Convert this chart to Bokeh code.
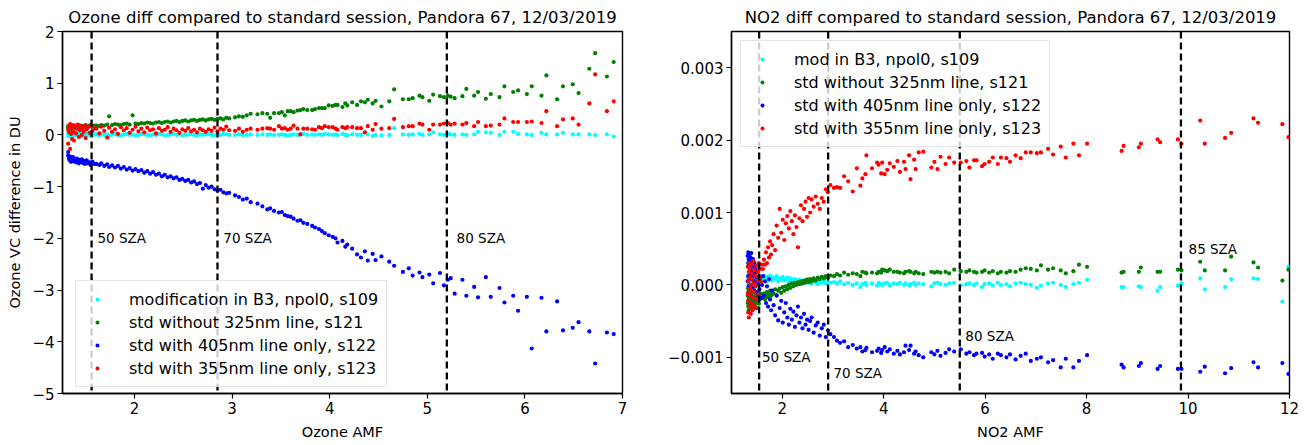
import numpy as np
from bokeh.plotting import figure
from bokeh.models import Span, FixedTicker, CustomJSTickFormatter, ColumnDataSource, Range1d
from bokeh.layouts import row
from bokeh.embed import file_html
from bokeh.resources import INLINE
from bokeh.core.properties import value

FONT = "DejaVu Sans"

# ---------------- Ozone panel data ----------------
ozone_amf_a = [1.32,1.32,1.33,1.33,1.34,1.34,1.35,1.35,1.36,1.37, 1.37,1.38,1.39,1.40,1.41,1.42,1.43,1.44,1.45,1.46,
               1.47,1.48,1.49,1.50,1.51,1.52,1.54,1.55,1.57,1.59]
ozone_s109_a = [0.03,-0.02,0.04,0.01,-0.03,0.02,0.00,0.04,-0.01,0.03, 0.01,-0.02,0.02,0.04,0.00,-0.01,0.03,0.02,-0.03,0.01,
                0.04,0.00,0.02,-0.02,0.03,0.01,0.00,0.02,-0.01,0.01]
ozone_s121_a = [0.14,0.17,0.12,0.16,0.13,0.18,0.15,0.12,0.17,0.14, 0.16,0.13,0.18,0.15,0.14,0.17,0.15,0.13,0.18,0.16,
                0.14,0.17,0.15,0.19,0.16,0.14,0.18,0.17,0.15,0.18]
ozone_s122_a = [-0.40,-0.33,-0.47,-0.44,-0.50,-0.42,-0.46,-0.52,-0.45,-0.49, -0.43,-0.51,-0.47,-0.53,-0.46,-0.50,-0.55,-0.48,-0.52,-0.47,
                -0.54,-0.50,-0.56,-0.51,-0.49,-0.55,-0.53,-0.58,-0.52,-0.56]
ozone_s123_a = [0.10,-0.17,0.18,0.05,-0.27,0.21,0.02,0.14,-0.08,0.19, 0.07,-0.11,0.16,0.03,0.12,0.20,-0.04,0.09,0.17,0.00,
                0.13,0.06,0.18,-0.06,0.11,0.15,0.04,0.19,0.08,0.13]

ozone_amf_b = [1.61,1.64,1.66,1.69,1.72,1.74,1.77,1.80,1.83,1.86, 1.89,1.92,1.95,1.98,2.01,2.04,2.07,2.10,2.13,2.16,
               2.19,2.22,2.25,2.28,2.31,2.34,2.37,2.40,2.43,2.46, 2.49,2.52,2.55,2.58,2.61,2.64,2.67,2.70,2.73,2.76,
               2.79,2.82,2.85,2.88,2.91,2.94,2.97]
ozone_s109_b = [0.01,-0.01,0.02,0.00,0.01,-0.02,0.01,0.02,0.00,-0.01, 0.01,0.02,0.00,0.01,-0.01,0.00,0.02,0.01,0.00,-0.01,
                0.01,0.00,0.02,0.01,-0.01,0.00,0.01,0.02,0.00,0.01, -0.01,0.00,0.01,0.02,0.00,-0.01,0.01,0.00,0.01,0.02,
                0.00,-0.01,0.01,0.00,0.02,0.01,0.00]
ozone_s121_b = [0.18,0.17,0.19,0.18,0.20,0.36,0.19,0.21,0.20,0.19, 0.21,0.22,0.20,0.38,0.22,0.21,0.23,0.22,0.24,0.23,
                0.22,0.24,0.25,0.23,0.25,0.26,0.24,0.26,0.27,0.25, 0.27,0.28,0.26,0.28,0.29,0.27,0.29,0.30,0.28,0.30,
                0.31,0.29,0.31,0.32,0.30,0.33,0.32]
ozone_s122_b = [-0.56,-0.58,-0.55,-0.60,-0.57,-0.62,-0.59,-0.63,-0.60,-0.65, -0.62,-0.67,-0.64,-0.69,-0.66,-0.70,-0.68,-0.73,-0.70,-0.75,
                -0.72,-0.77,-0.75,-0.80,-0.77,-0.82,-0.80,-0.84,-0.82,-0.87, -0.85,-0.89,-0.87,-0.92,-0.90,-0.95,-0.93,-1.04,-0.97,-1.02,
                -1.00,-1.05,-1.08,-1.06,-1.11,-1.13,-1.12]
ozone_s123_b = [0.12,0.03,0.16,0.08,-0.05,0.14,0.06,0.11,0.02,0.15, 0.09,0.13,0.04,0.10,0.16,0.07,0.12,0.05,0.14,0.09,
                0.11,0.03,0.13,0.08,0.10,0.15,0.06,0.12,0.09,0.04, 0.11,0.08,0.13,0.07,0.10,0.05,0.12,0.09,0.06,0.11,
                0.08,0.14,0.07,0.12,0.10,0.16,0.09]

ozone_amf_c = [3.03,3.07,3.11,3.15,3.19,3.26,3.31,3.36,3.39,3.43, 3.48,3.51,3.54,3.57,3.60,3.63,3.67,3.70,3.73,3.77,
               3.82,3.85,3.89,3.92,3.95,3.99,4.03,4.06,4.08,4.13, 4.16,4.18,4.23,4.28]
ozone_s109_c = [0.00,0.01,-0.01,0.00,0.01,0.00,0.01,0.00,0.01,0.00, 0.00,0.01,0.00,-0.01,0.00,0.01,0.00,0.01,0.02,0.00,
                0.01,0.00,0.01,0.00,0.02,0.01,0.00,0.01,0.00,0.02, 0.00,-0.01,0.01,0.00]
ozone_s121_c = [0.34,0.36,0.35,0.38,0.41,0.40,0.42,0.41,0.33,0.42, 0.42,0.44,0.38,0.46,0.46,0.44,0.47,0.48,0.50,0.48,
                0.48,0.50,0.52,0.52,0.52,0.57,0.56,0.58,0.58,0.54, 0.61,0.57,0.63,0.58]
ozone_s122_c = [-1.17,-1.20,-1.25,-1.23,-1.30,-1.33,-1.38,-1.44,-1.42,-1.47, -1.50,-1.49,-1.55,-1.57,-1.58,-1.62,-1.66,-1.65,-1.70,-1.72,
                -1.76,-1.79,-1.82,-1.86,-1.90,-1.94,-1.97,-2.00,-2.08,-2.05, -2.16,-2.12,-2.20,-2.31]
ozone_s123_c = [0.08,0.12,0.06,0.10,0.12,0.10,0.12,0.13,0.12,0.10, 0.17,0.12,0.13,0.10,0.12,0.18,0.12,0.01,0.12,0.12,
                0.11,0.10,0.15,0.13,0.17,0.15,0.15,0.12,0.10,0.15, 0.13,0.15,0.15,0.13]

ozone_amf_d = [4.32,4.36,4.39,4.44,4.47,4.53,4.61,4.66,4.75,4.81, 4.85,4.92,4.95,5.02,5.06,5.13,5.17,5.21,5.24,5.28,
               5.36,5.40,5.48,5.52,5.60,5.65,5.74,5.79,5.88,5.93, 6.02,6.07,6.17,6.22,6.33,6.39,6.49,6.55,6.66,6.72,
               6.84,6.91]
ozone_s109_d = [0.00,0.05,0.01,-0.02,0.00,-0.01,0.00,0.13,0.01,0.00, 0.01,0.02,0.00,0.01,0.05,0.01,0.00,0.02,0.01,0.00,
                0.01,0.00,0.01,0.06,0.05,0.04,0.00,0.06,0.06,0.02, 0.01,0.00,0.04,0.01,0.01,0.04,0.01,0.01,0.01,0.00,
                0.01,-0.03]
ozone_s121_d = [0.65,0.63,0.68,0.61,0.66,0.55,0.65,0.88,0.69,0.69, 0.71,0.76,0.73,0.66,0.78,0.75,0.73,0.76,0.74,0.71,
                0.75,0.89,0.76,0.83,0.70,0.79,0.73,0.94,0.83,0.86, 0.79,0.94,0.76,1.15,0.69,0.94,0.98,0.81,1.28,1.58,
                1.13,1.41]
ozone_s122_d = [-2.37,-2.25,-2.43,-2.30,-2.42,-2.35,-2.45,-2.53,-2.65,-2.58, -2.72,-2.66,-2.75,-2.70,-2.87,-2.67,-2.91,-2.80,-2.77,-3.07,
                -2.80,-3.11,-2.94,-3.14,-2.75,-3.13,-2.96,-3.24,-3.11,-3.40, -3.13,-4.13,-3.15,-3.80,-3.22,-3.78,-3.73,-3.62,-3.80,-4.42,
                -3.82,-3.85]
ozone_s123_d = [0.13,0.05,0.17,0.10,0.21,0.12,0.13,0.31,0.15,0.17, 0.17,0.22,0.20,0.10,0.20,0.20,0.22,0.23,0.20,0.22,
                0.20,0.23,0.17,0.25,0.17,0.18,0.20,0.32,0.25,0.25, 0.25,0.26,0.23,0.46,0.17,0.30,0.32,0.20,0.61,1.17,
                0.46,0.65]

# ---------------- NO2 panel data (values in units of 1e-3) ----------------
no2_amf_a = [1.32,1.32,1.33,1.33,1.33,1.34,1.34,1.35,1.35,1.36, 1.36,1.37,1.37,1.38,1.38,1.39,1.39,1.40,1.40,1.41,
             1.41,1.42,1.43,1.43,1.44,1.45,1.45,1.46,1.47,1.48, 1.49,1.50,1.51,1.52,1.53,1.54,1.55,1.56,1.58,1.60]
no2_s109_a = [0.05,-0.05,0.10,0.00,0.12,-0.08,0.06,0.14,-0.02,0.08, 0.03,0.11,-0.06,0.07,0.01,0.13,-0.04,0.09,0.04,0.15,
              -0.01,0.06,0.10,0.02,0.12,-0.03,0.08,0.05,0.11,0.00, 0.07,0.09,0.03,0.10,0.06,0.08,0.04,0.09,0.07,0.08]
no2_s121_a = [-0.15,-0.25,-0.05,-0.30,-0.10,-0.20,-0.35,-0.02,-0.18,-0.28, -0.08,-0.22,-0.12,-0.32,-0.04,-0.26,-0.14,-0.30,-0.06,-0.20,
              -0.34,-0.10,-0.24,-0.16,-0.28,-0.08,-0.22,-0.30,-0.12,-0.26, -0.18,-0.32,-0.14,-0.22,-0.10,-0.26,-0.16,-0.20,-0.12,-0.18]
no2_s122_a = [0.40,0.05,0.30,0.45,0.12,0.35,-0.02,0.25,0.42,0.18, 0.08,0.38,0.22,0.00,0.32,0.15,0.44,0.10,0.28,-0.04,
              0.20,0.36,0.06,0.26,0.12,0.30,-0.08,0.16,0.04,0.22, -0.10,0.10,0.18,-0.15,0.02,0.12,-0.06,0.08,-0.18,0.00]
no2_s123_a = [-0.12,0.25,-0.38,0.05,-0.22,0.18,-0.45,-0.05,0.30,-0.30, 0.10,-0.15,0.22,-0.40,0.00,-0.25,0.15,-0.08,0.28,-0.35,
              0.08,-0.18,0.33,-0.28,0.02,-0.10,0.20,-0.32,0.12,-0.02, 0.26,-0.20,0.06,0.18,-0.14,0.30,0.10,0.22,0.04,0.28]

no2_amf_b = [1.62,1.64,1.66,1.68,1.70,1.72,1.74,1.76,1.78,1.80, 1.83,1.86,1.89,1.92,1.95,1.98,2.01,2.04,2.07,2.10,
             2.13,2.16,2.19,2.22,2.25,2.28,2.31,2.34,2.37,2.40, 2.43,2.46,2.49,2.52,2.55,2.58,2.62,2.66,2.70,2.74,
             2.78,2.82,2.86,2.90,2.95]
no2_s109_b = [0.10,0.06,0.12,0.08,0.05,0.11,0.07,0.13,0.09,0.06, 0.10,0.08,0.12,0.05,0.09,0.07,0.11,0.06,0.08,0.10,
              0.05,0.09,0.07,0.04,0.08,0.06,0.03,0.07,0.05,0.02, 0.06,0.04,0.08,0.03,0.05,0.02,0.06,0.04,0.01,0.05,
              0.03,0.06,0.02,0.04,0.03]
no2_s121_b = [-0.18,-0.12,-0.20,-0.15,-0.10,-0.17,-0.13,-0.08,-0.15,-0.10, -0.12,-0.06,-0.14,-0.08,-0.05,-0.11,-0.03,-0.08,-0.02,-0.06,
              0.00,-0.04,0.02,-0.02,0.03,0.00,0.04,0.01,0.05,0.02, 0.06,0.03,0.07,0.04,0.08,0.05,0.09,0.06,0.10,0.08,
              0.11,0.09,0.12,0.10,0.13]
no2_s122_b = [0.12,-0.15,0.05,-0.25,-0.02,-0.30,0.08,-0.20,-0.35,-0.08, -0.28,-0.42,-0.15,-0.49,-0.32,-0.22,-0.52,-0.38,-0.25,-0.45,
              -0.55,-0.33,-0.48,-0.37,-0.58,-0.42,-0.30,-0.52,-0.45,-0.60, -0.40,-0.55,-0.48,-0.62,-0.50,-0.45,-0.66,-0.56,-0.52,-0.70,
              -0.60,-0.55,-0.72,-0.63,-0.68]
no2_s123_b = [0.22,0.35,0.28,0.45,0.30,0.52,0.38,0.60,0.42,0.55, 0.70,0.48,0.82,0.65,1.05,0.72,0.90,0.62,0.85,0.95,
              0.78,1.02,0.88,0.70,0.96,0.80,0.52,0.92,1.10,0.88, 1.05,1.15,0.94,1.20,1.00,1.18,1.08,1.22,1.12,1.05,
              1.20,1.15,1.32,1.28,1.38]

no2_amf_c = [3.02,3.08,3.14,3.22,3.30,3.39,3.47,3.54,3.58,3.64, 3.66,3.77,3.87,3.90,3.95,3.97,4.02,4.07,4.12,4.20,
             4.27,4.32,4.40,4.43,4.50,4.53,4.60,4.63,4.69,4.78, 4.94,5.00,5.06,5.12,5.22,5.29,5.39,5.52,5.63,5.69,
             5.78,5.83,5.94,5.99,6.08,6.15,6.25,6.31,6.42,6.49, 6.60,6.70,6.80,6.90,7.02,7.10,7.24,7.34,7.49,7.59,
             7.74,7.85,8.01]
no2_s109_c = [0.04,0.02,0.05,0.01,0.03,0.00,0.02,-0.03,0.01,0.03, 0.00,0.02,-0.01,0.03,0.01,0.00,0.02,0.03,-0.01,0.02,
              0.01,0.03,0.00,0.02,-0.01,0.01,0.03,0.00,0.02,0.01, -0.02,0.02,0.03,0.01,0.00,0.02,0.03,-0.01,0.01,0.02,
              0.00,0.02,-0.03,0.01,0.02,-0.01,0.03,0.00,0.01,-0.02, 0.02,0.03,0.01,0.00,-0.04,-0.01,0.02,0.03,0.00,-0.03,
              0.01,0.03,0.07]
no2_s121_c = [0.12,0.15,0.13,0.17,0.14,0.16,0.15,0.12,0.18,0.17, 0.16,0.17,0.16,0.18,0.17,0.21,0.20,0.19,0.21,0.18,
              0.18,0.17,0.16,0.18,0.19,0.18,0.16,0.18,0.16,0.15, 0.18,0.17,0.18,0.17,0.18,0.16,0.21,0.19,0.18,0.20,
              0.18,0.17,0.18,0.20,0.17,0.19,0.16,0.18,0.17,0.19, 0.18,0.21,0.23,0.22,0.20,0.27,0.21,0.23,0.20,0.16,
              0.19,0.28,0.25]
no2_s122_c = [-0.72,-0.77,-0.80,-0.78,-0.86,-0.83,-0.88,-0.86,-0.92,-0.90, -0.87,-0.93,-0.91,-0.88,-0.94,-0.90,-0.86,-0.92,-0.89,-0.95,
              -0.91,-0.96,-0.93,-0.84,-0.90,-0.84,-0.95,-0.92,-0.97,-1.00, -0.93,-0.96,-0.91,-0.98,-0.94,-0.89,-0.92,-0.89,-0.95,-0.93,
              -0.97,-0.95,-0.94,-0.99,-0.96,-1.02,-0.95,-0.97,-1.00,-0.96, -1.03,-0.98,-0.95,-1.05,-1.02,-1.00,-1.07,-1.04,-1.14,-1.02,
              -1.14,-1.05,-0.97]
no2_s123_c = [1.34,1.35,1.34,1.50,1.43,1.29,1.61,1.37,1.47,1.53, 1.79,1.61,1.69,1.66,1.54,1.69,1.53,1.59,1.68,1.63,
              1.71,1.56,1.70,1.60,1.79,1.46,1.73,1.60,1.83,1.84, 1.62,1.70,1.60,1.77,1.67,1.76,1.69,1.69,1.71,1.62,
              1.72,1.72,1.64,1.67,1.70,1.76,1.67,1.76,1.75,1.70, 1.79,1.75,1.83,1.83,1.82,1.83,1.88,1.80,1.91,1.76,
              1.95,1.79,1.95]

no2_amf_d = [8.69,8.73,9.03,9.07,9.40,9.45,9.80,9.87,10.24,10.33, 10.73,10.85,11.29,11.38,11.86,11.98]
no2_s109_d = [-0.03,-0.03,-0.02,-0.03,-0.08,-0.03,-0.01,0.02,0.09,-0.06, -0.03,0.08,0.09,0.08,-0.23,0.25]
no2_s121_d = [0.17,0.18,0.18,0.24,0.18,0.18,0.21,0.20,0.32,0.20, 0.20,0.39,0.31,0.24,0.06,0.21]
no2_s122_d = [-1.10,-1.14,-1.12,-1.08,-1.16,-1.12,-1.16,-1.16,-1.20,-1.13, -1.22,-1.15,-1.07,-1.14,-1.08,-1.23]
no2_s123_d = [1.85,1.92,1.90,1.95,2.01,1.97,2.01,1.95,2.27,1.95, 2.03,2.10,2.30,2.24,2.22,2.04]

# ---------------- labels / ticks / reference lines ----------------
ozone_labels = ["modification in B3, npol0, s109", "std without 325nm line, s121",
                "std with 405nm line only, s122", "std with 355nm line only, s123"]
no2_labels = ["mod in B3, npol0, s109", "std without 325nm line, s121",
              "std with 405nm line only, s122", "std with 355nm line only, s123"]
series_colors = ["#00ffff", "#008000", "#0000ff", "#ff0000"]

ozone_xticks = [2, 3, 4, 5, 6, 7]
ozone_yticks = [-5, -4, -3, -2, -1, 0, 1, 2]
no2_xticks = [2, 4, 6, 8, 10, 12]
no2_yticks = [-0.001, 0.0, 0.001, 0.002, 0.003]

ozone_sza_amf = [1.56, 2.85, 5.20]
ozone_sza_text = ["50 SZA", "70 SZA", "80 SZA"]
ozone_sza_text_x = [1.62, 2.91, 5.30]
ozone_sza_text_y = [-2.0, -2.0, -2.0]

no2_sza_amf = [1.545, 2.905, 5.50, 9.86]
no2_sza_text = ["50 SZA", "70 SZA", "80 SZA", "85 SZA"]
no2_sza_text_x = [1.60, 3.01, 5.61, 10.01]
no2_sza_text_y = [-0.0010, -0.00122, -0.0007, 0.0005]

TITLE_FS = "16.5px"
TICK_FS = "15px"
LABEL_FS = "14.5px"
LEGEND_FS = "16px"
SZA_FS = "13.5px"


def style(p, xticks, yticks, fmt_digits, xlabel, ylabel):
    p.background_fill_color = "white"
    p.border_fill_color = "white"
    p.outline_line_color = "black"
    p.outline_line_width = 1.4
    p.xgrid.visible = False
    p.ygrid.visible = False
    p.title.text_font = FONT
    p.title.text_font_size = TITLE_FS
    p.title.text_font_style = "normal"
    p.title.text_color = "black"
    p.title.align = "center"
    p.title.standoff = 9
    for ax in (p.xaxis[0], p.yaxis[0]):
        ax.axis_line_color = "black"
        ax.axis_line_width = 1.4
        ax.major_tick_out = 5
        ax.major_tick_in = 0
        ax.major_tick_line_color = "black"
        ax.major_tick_line_width = 1.2
        ax.minor_tick_line_color = None
        ax.major_label_text_font = FONT
        ax.major_label_text_font_size = TICK_FS
        ax.major_label_text_color = "black"
        ax.major_label_standoff = 3
        ax.axis_label_text_font = FONT
        ax.axis_label_text_font_size = LABEL_FS
        ax.axis_label_text_font_style = "normal"
        ax.axis_label_text_color = "black"
    p.xaxis[0].ticker = FixedTicker(ticks=xticks)
    p.yaxis[0].ticker = FixedTicker(ticks=yticks)
    p.xaxis[0].formatter = CustomJSTickFormatter(code="return (tick < 0 ? '\\u2212' : '') + Math.abs(tick).toFixed(0);")
    p.yaxis[0].formatter = CustomJSTickFormatter(
        code="var v = Math.abs(tick) < 1e-12 ? 0 : tick; return (v < 0 ? '\\u2212' : '') + Math.abs(v).toFixed(%d);" % fmt_digits)
    p.xaxis[0].axis_label = xlabel
    p.xaxis[0].axis_label_standoff = 7
    if ylabel:
        p.yaxis[0].axis_label = ylabel
        p.yaxis[0].axis_label_standoff = 6


def add_series(p, x, ys, labels, scale=1.0):
    for yv, lab, col in zip(ys, labels, series_colors):
        src = ColumnDataSource(dict(x=np.asarray(x, float), y=np.asarray(yv, float) * scale))
        p.scatter("x", "y", source=src, size=4.2, fill_color=col, line_color=None, legend_label=lab)


def style_legend(p, loc, margin):
    lg = p.legend[0]
    lg.location = loc
    lg.margin = margin
    lg.label_text_font = FONT
    lg.label_text_font_size = LEGEND_FS
    lg.label_text_color = "black"
    lg.glyph_width = 26
    lg.glyph_height = 10
    lg.label_height = 20
    lg.label_standoff = 19
    lg.spacing = 3
    lg.padding = 8
    lg.border_line_color = "#cccccc"
    lg.border_line_width = 1
    lg.background_fill_color = "white"
    lg.background_fill_alpha = 0.8


DASH = "7 4"
H = 444

# ---------------- Ozone figure ----------------
p1 = figure(width=664, height=H, output_backend="svg", toolbar_location=None,
            x_range=Range1d(1.262, 7.0), y_range=Range1d(-5.0, 2.0),
            title="Ozone diff compared to standard session, Pandora 67, 12/03/2019",
            min_border_left=62, min_border_right=42, min_border_top=31, min_border_bottom=H - 393)
style(p1, ozone_xticks, ozone_yticks, 0, "Ozone AMF", "Ozone VC difference in DU")

ozone_x = ozone_amf_a + ozone_amf_b + ozone_amf_c + ozone_amf_d
ozone_ys = [ozone_s109_a + ozone_s109_b + ozone_s109_c + ozone_s109_d,
            ozone_s121_a + ozone_s121_b + ozone_s121_c + ozone_s121_d,
            ozone_s122_a + ozone_s122_b + ozone_s122_c + ozone_s122_d,
            ozone_s123_a + ozone_s123_b + ozone_s123_c + ozone_s123_d]
for loc in ozone_sza_amf:
    p1.add_layout(Span(location=loc, dimension="height", line_color="black", line_width=2.3, line_dash=DASH))
add_series(p1, ozone_x, ozone_ys, ozone_labels)
p1.text(x=ozone_sza_text_x, y=ozone_sza_text_y, text=ozone_sza_text, text_font=value(FONT),
        text_font_size=SZA_FS, text_color="black", text_align="left", text_baseline="alphabetic")
style_legend(p1, (13, 6), 0)

# ---------------- NO2 figure ----------------
p2 = figure(width=645, height=H, output_backend="svg", toolbar_location=None,
            x_range=Range1d(1.0, 12.0), y_range=Range1d(-0.0015, 0.0035),
            title="NO2 diff compared to standard session, Pandora 67, 12/03/2019",
            min_border_left=67, min_border_right=20, min_border_top=31, min_border_bottom=H - 394)
style(p2, no2_xticks, no2_yticks, 3, "NO2 AMF", None)

no2_x = no2_amf_a + no2_amf_b + no2_amf_c + no2_amf_d
no2_ys = [no2_s109_a + no2_s109_b + no2_s109_c + no2_s109_d,
          no2_s121_a + no2_s121_b + no2_s121_c + no2_s121_d,
          no2_s122_a + no2_s122_b + no2_s122_c + no2_s122_d,
          no2_s123_a + no2_s123_b + no2_s123_c + no2_s123_d]
for loc in no2_sza_amf:
    p2.add_layout(Span(location=loc, dimension="height", line_color="black", line_width=2.3, line_dash=DASH))
add_series(p2, no2_x, no2_ys, no2_labels, scale=1e-3)
p2.text(x=no2_sza_text_x, y=no2_sza_text_y, text=no2_sza_text, text_font=value(FONT),
        text_font_size=SZA_FS, text_color="black", text_align="left", text_baseline="alphabetic")
style_legend(p2, "top_left", 9)

layout = row(p1, p2)
open("out.html", "w").write(file_html(layout, INLINE))
